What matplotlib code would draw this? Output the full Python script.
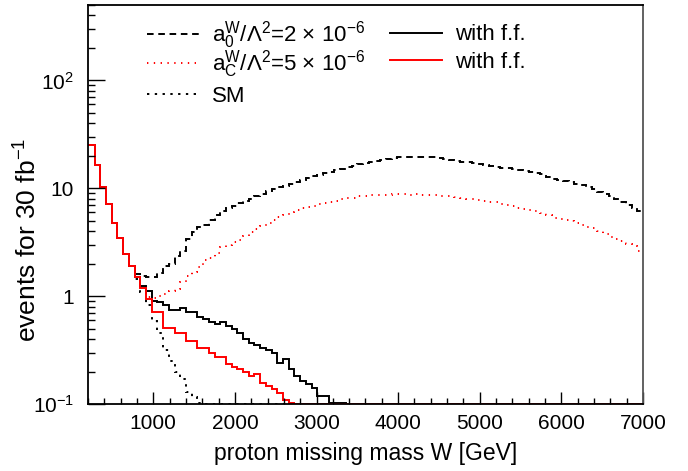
import numpy as np
import matplotlib
matplotlib.use("Agg")
import matplotlib.pyplot as plt
from matplotlib.ticker import FixedLocator, MultipleLocator, NullFormatter

plt.rcParams['font.family'] = ['Liberation Sans', 'DejaVu Sans']
plt.rcParams['mathtext.fontset'] = 'custom'
plt.rcParams['mathtext.rm'] = 'Liberation Sans'
plt.rcParams['mathtext.it'] = 'Liberation Sans:italic'
plt.rcParams['mathtext.bf'] = 'Liberation Sans:bold'
plt.rcParams['mathtext.default'] = 'regular'

# 70 GeV bins, first bin only partly inside the x range
bin_edges = np.arange(140, 7001, 70)

# bins 140..700 GeV, identical for all samples (SM dominated)
low_mass = [25, 25.1, 16.6, 10.3, 7.1, 4.75, 3.48, 2.47, 1.9]

# bins from 770 GeV on
sm = [1.45, 1.1, 0.82, 0.59, 0.46, 0.32, 0.25, 0.20, 0.17, 0.13,
      0.115, 0.103] + [0] * 77

a0_ff = [1.52, 1.25, 1.12, 0.91, 0.875, 0.82, 0.74, 0.74, 0.78, 0.71,
         0.71, 0.635, 0.61, 0.57, 0.55, 0.57, 0.53, 0.50, 0.46, 0.40,
         0.37, 0.35, 0.33, 0.32, 0.30, 0.24, 0.26, 0.21, 0.18, 0.164,
         0.153, 0.142, 0.119, 0.119, 0.103, 0.103, 0.103] + [0] * 52

ac_ff = [1.52, 1.2, 0.94, 0.71, 0.71, 0.51, 0.51, 0.46, 0.46, 0.386,
         0.386, 0.334, 0.33, 0.30, 0.27, 0.27, 0.234, 0.218, 0.21, 0.20,
         0.18, 0.19, 0.158, 0.147, 0.137, 0.127, 0.11, 0.103] + [0] * 61

a0 = [1.61, 1.55, 1.5, 1.5, 1.63, 1.92, 2.0, 2.38, 2.6, 3.4,
      3.9, 4.37, 4.6, 5.1, 5.6, 6.2, 6.6, 6.9, 7.3, 7.6,
      8.0, 8.4, 8.9, 9.4, 9.8, 10.2, 10.6, 11.0, 11.5, 12.0,
      12.5, 12.9, 13.3, 13.8, 14.2, 14.7, 15.2, 15.7, 16.2, 16.7,
      17.2, 17.6, 18.0, 18.4, 18.7, 19.0, 19.3, 19.4, 19.5, 19.5,
      19.5, 19.4, 19.3, 19.0, 18.7, 18.3, 18.0, 17.7, 17.4, 17.1,
      16.8, 16.5, 16.2, 15.8, 15.5, 15.3, 15.0, 14.8, 14.4, 14.1,
      13.8, 13.5, 12.8, 12.2, 12.0, 11.7, 11.4, 11.0, 10.7, 10.3,
      9.8, 9.2, 8.8, 8.5, 7.9, 7.5, 7.0, 6.6, 6.1]

ac = [1.52, 1.2, 0.98, 0.97, 1.0, 1.05, 1.12, 1.17, 1.35, 1.55,
      1.66, 1.85, 2.14, 2.27, 2.5, 2.84, 2.95, 3.17, 3.3, 3.6,
      3.9, 4.2, 4.5, 4.8, 5.1, 5.4, 5.7, 6.0, 6.3, 6.5,
      6.7, 6.9, 7.1, 7.3, 7.5, 7.7, 7.9, 8.1, 8.2, 8.4,
      8.5, 8.6, 8.6, 8.7, 8.7, 8.8, 8.8, 8.8, 8.7, 8.8,
      8.6, 8.7, 8.6, 8.5, 8.5, 8.4, 8.3, 8.2, 8.0, 7.9,
      7.75, 7.6, 7.5, 7.4, 7.2, 7.0, 6.8, 6.6, 6.45, 6.3,
      6.1, 5.95, 5.6, 5.35, 5.2, 5.1, 5.0, 4.8, 4.6, 4.4,
      4.25, 4.0, 3.8, 3.55, 3.4, 3.25, 3.05, 2.9, 2.6]

ymin, ymax = 0.1, 500

def full(tail):
    vals = np.array(low_mass + tail, dtype=float)
    assert len(vals) == len(bin_edges) - 1
    # empty bins are drawn on the lower frame, like ROOT does
    return np.where(vals > 0, vals, ymin)

fig = plt.figure(figsize=(6.88, 4.71), dpi=100)
ax = fig.add_axes([88 / 688, 1 - 404 / 471, 555 / 688, 399 / 471])

lw = 1.4
h_a0 = ax.stairs(full(a0), bin_edges, baseline=None, color='black', lw=lw,
                 linestyle=(0, (3.4, 2.4)))
h_ac = ax.stairs(full(ac), bin_edges, baseline=None, color='red', lw=lw,
                 linestyle=(0, (0.7, 2.8)))
h_sm = ax.stairs(full(sm), bin_edges, baseline=None, color='black', lw=lw,
                 linestyle=(0, (1.2, 2.8)))
h_a0ff = ax.stairs(full(a0_ff), bin_edges, baseline=None, color='black', lw=lw)
h_acff = ax.stairs(full(ac_ff), bin_edges, baseline=None, color='red', lw=lw)

ax.set_yscale('log')
ax.set_xlim(200, 7000)
ax.set_ylim(ymin, ymax)

ax.xaxis.set_major_locator(MultipleLocator(1000))
ax.xaxis.set_minor_locator(MultipleLocator(200))
ax.yaxis.set_major_locator(FixedLocator([0.1, 1, 10, 100]))
ax.set_yticklabels(['$10^{-1}$', '1', '10', '$10^{2}$'])
ax.yaxis.set_minor_locator(FixedLocator(
    [m * 10.0 ** e for e in range(-1, 3) for m in range(2, 10)]))
ax.yaxis.set_minor_formatter(NullFormatter())

ax.tick_params(which='both', direction='in', top=False, right=False,
               labelsize=15, width=1.0)
ax.tick_params(axis='x', which='major', length=9, pad=7)
ax.tick_params(axis='x', which='minor', length=4)
ax.tick_params(axis='y', which='major', length=12, pad=10)
ax.tick_params(axis='y', which='minor', length=5)
for s in ax.spines.values():
    s.set_linewidth(1.3)
ax.spines['right'].set_color('#555555')

ax.set_xlabel('proton missing mass W [GeV]', fontsize=16.5, labelpad=7)
ax.set_ylabel('events for 30 fb$^{-1}$', fontsize=19)
ax.yaxis.set_label_coords(-46 / 555, (404 - 240) / 399)

# legend laid out like the ROOT one: two columns, rows shared
leg_kw = dict(loc='upper left', frameon=False, fontsize=16,
              handlelength=2.35, handletextpad=0.58, borderpad=0,
              borderaxespad=0)
fig.legend([h_a0, h_ac],
           [r'$a_0^W/\Lambda^2$=2 $\times$ 10$^{-6}$',
            r'$a_C^W/\Lambda^2$=5 $\times$ 10$^{-6}$'],
           bbox_to_anchor=(147 / 688, 1 - 19 / 471), labelspacing=-0.135,
           **leg_kw)
fig.legend([h_sm], ['SM'], bbox_to_anchor=(147 / 688, 1 - 85.5 / 471),
           **leg_kw)
fig.legend([h_a0ff, h_acff], ['with f.f.', 'with f.f.'],
           bbox_to_anchor=(390 / 688, 1 - 24.5 / 471), labelspacing=0.27,
           **leg_kw)

fig.savefig('out.png', dpi=100)
